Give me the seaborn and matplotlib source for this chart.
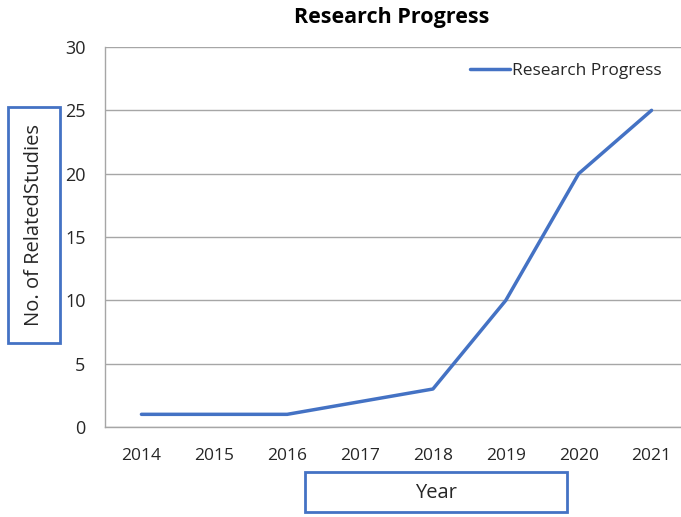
import matplotlib
matplotlib.use("Agg")
import matplotlib.pyplot as plt
from matplotlib.patches import Rectangle
from matplotlib.ticker import FixedLocator, NullFormatter
import seaborn as sns
import pandas as pd

years = ["2014", "2015", "2016", "2017", "2018", "2019", "2020", "2021"]
studies = [1, 1, 1, 2, 3, 10, 20, 25]
series_name = "Research Progress"
y_ticks = [0, 5, 10, 15, 20, 25, 30]

sns.set_theme(style="white")
plt.rcParams["font.family"] = ["Open Sans", "DejaVu Sans"]

blue = "#4472C4"
grid = "#A6A6A6"
text_col = "#262626"

df = pd.DataFrame({"Year": years, "Studies": studies, "Series": series_name})

fig = plt.figure(figsize=(6.81, 5.17), dpi=100)
ax = fig.add_axes([105 / 681, 1 - 427 / 517, 583 / 681, 380 / 517])

sns.lineplot(data=df, x="Year", y="Studies", hue="Series", palette=[blue],
             linewidth=2.5, ax=ax, sort=False)

ax.set_xlim(-0.5, len(years) - 0.5)
ax.set_ylim(0, 30)
ax.set_yticks(y_ticks)
ax.set_yticklabels([str(v) for v in y_ticks], fontsize=13, color=text_col)
ax.set_xticks(range(len(years)))
ax.set_xticklabels(years, fontsize=12.5, color=text_col)
ax.xaxis.set_minor_locator(FixedLocator([i - 0.5 for i in range(len(years) + 1)]))
ax.xaxis.set_minor_formatter(NullFormatter())
ax.tick_params(axis="x", which="major", length=0, pad=15)
ax.tick_params(axis="x", which="minor", length=6, color=grid, width=1, direction="out")
ax.tick_params(axis="y", which="major", length=8, color=grid, width=1, pad=6)

ax.grid(axis="y", color=grid, linewidth=1)
ax.grid(axis="x", visible=False)
for side in ("top", "right"):
    ax.spines[side].set_visible(False)
for side in ("left", "bottom"):
    ax.spines[side].set_color(grid)
    ax.spines[side].set_linewidth(1)

ax.set_xlabel("")
ax.set_ylabel("")

leg = ax.legend(loc="upper right", bbox_to_anchor=((672 - 105) / 583, 0.985),
                frameon=False, fontsize=12.5, handlelength=2.3, handletextpad=0.1,
                borderaxespad=0.2)
for t in leg.get_texts():
    t.set_color(text_col)

fig.text(392 / 681, 1 - 17 / 517, "Research Progress", ha="center", va="center",
         fontsize=15.5, fontweight="bold", color="black")

# boxed axis titles
fig.patches.append(Rectangle((8 / 681, 1 - 343 / 517), 52 / 681, 236 / 517,
                             transform=fig.transFigure, fill=False,
                             edgecolor=blue, linewidth=2))
fig.text(34 / 681, 1 - 225 / 517, "No. of RelatedStudies", rotation=90,
         ha="center", va="center", fontsize=14.5, color=text_col)

fig.patches.append(Rectangle((305 / 681, 1 - 512 / 517), 262 / 681, 40 / 517,
                             transform=fig.transFigure, fill=False,
                             edgecolor=blue, linewidth=2))
fig.text(436 / 681, 1 - 493 / 517, "Year", ha="center", va="center",
         fontsize=14.5, color=text_col)

fig.savefig("out.png", dpi=100)
